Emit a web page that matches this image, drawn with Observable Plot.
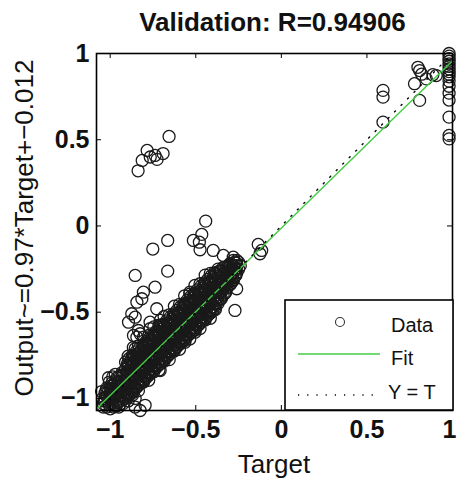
<!DOCTYPE html>
<html><head><meta charset="utf-8">
<script src="https://cdn.jsdelivr.net/npm/d3@7"></script>
<script src="https://cdn.jsdelivr.net/npm/@observablehq/plot@0.6"></script>
<style>
body{margin:0;background:#fff;font-family:"Liberation Sans",Arial,sans-serif;}
#wrap{position:relative;width:457px;height:479px;overflow:hidden;background:#fff;}
#title{height:44px;position:relative;}
#title span{position:absolute;left:0;width:545px;text-align:center;top:7px;font-size:26px;font-weight:bold;line-height:30px;color:#111;}
svg{overflow:visible;}
</style></head>
<body><div id="wrap"><div id="title"><span id="titleText"></span></div><div id="chart"></div></div>
<script>
// ---- data ----
const titleText = "Validation: R=0.94906";
const xLabel = "Target";
const yLabel = "Output~=0.97*Target+\u22120.012";
const legendLabels = ["Data", "Fit", "Y = T"];
const xTicks = [-1, -0.5, 0, 0.5, 1];
const yTicks = [-1, -0.5, 0, 0.5, 1];
const xDomain = [-1.08, 1];
const yDomain = [-1.07, 1];
const fitSlope = 0.97;
const fitOffset = -0.012;

// dense cluster near (-1,-1): [target, output]
const blobPoints = [
[-1.04,-1.03],[-1.03,-1.0],[-1.03,-0.97],[-1.02,-1.05],[-1.02,-0.99],[-1.02,-0.94],[-1.01,-1.02],[-1.01,-0.96],
[-1.0,-1.06],[-1.0,-1.0],[-1.0,-0.97],[-1.0,-0.93],[-0.99,-1.03],[-0.99,-0.98],[-0.99,-0.95],[-0.99,-0.91],
[-0.98,-1.05],[-0.98,-1.01],[-0.98,-0.96],[-0.98,-0.92],[-0.97,-1.04],[-0.97,-0.99],[-0.97,-0.94],[-0.97,-0.9],
[-0.96,-1.02],[-0.96,-0.97],[-0.96,-0.93],[-0.96,-0.88],[-0.95,-1.05],[-0.95,-1.0],[-0.95,-0.95],[-0.95,-0.91],
[-0.94,-1.03],[-0.94,-0.98],[-0.94,-0.93],[-0.94,-0.87],[-0.93,-1.01],[-0.93,-0.96],[-0.93,-0.9],[-0.92,-0.99],
[-0.92,-0.94],[-0.92,-0.86],[-1.035,-1.015],[-1.015,-0.985],[-1.005,-1.035],[-0.995,-0.945],[-0.985,-1.025],
[-0.975,-0.965],[-0.965,-1.045],[-0.955,-0.905],[-0.945,-1.015],[-0.935,-0.925],[-1.025,-0.955],[-1.045,-1.0],
[-1.005,-0.905],[-0.985,-0.875],[-0.965,-0.955],[-0.955,-1.025],[-0.925,-1.03],[-0.915,-0.965],
[-1.05,-0.96],[-1.04,-1.05],[-1.01,-0.88],[-0.97,-0.86],[-0.93,-0.85]
];

// main band along the diagonal: [target, [outputs...]]
const bandColumns = [
[-0.91,[-1.0,-0.95,-0.91,-0.87,-0.83,-0.79]],
[-0.90,[-0.97,-0.92,-0.88,-0.84,-0.8,-0.99]],
[-0.89,[-0.98,-0.93,-0.89,-0.85,-0.81,-0.77]],
[-0.88,[-0.95,-0.9,-0.86,-0.82,-0.78,-0.97]],
[-0.87,[-0.96,-0.91,-0.87,-0.83,-0.79,-0.75]],
[-0.86,[-0.93,-0.88,-0.84,-0.8,-0.76,-0.95]],
[-0.85,[-0.94,-0.89,-0.85,-0.81,-0.77,-0.73]],
[-0.84,[-0.91,-0.86,-0.82,-0.78,-0.74,-0.93]],
[-0.83,[-0.92,-0.87,-0.83,-0.79,-0.75,-0.71]],
[-0.82,[-0.89,-0.84,-0.8,-0.76,-0.72,-0.91]],
[-0.81,[-0.9,-0.85,-0.81,-0.77,-0.73,-0.69]],
[-0.80,[-0.87,-0.82,-0.78,-0.74,-0.7,-0.89]],
[-0.79,[-0.88,-0.83,-0.79,-0.75,-0.71,-0.67]],
[-0.78,[-0.85,-0.8,-0.76,-0.72,-0.68,-0.87]],
[-0.77,[-0.86,-0.81,-0.77,-0.73,-0.69,-0.65]],
[-0.76,[-0.83,-0.78,-0.74,-0.7,-0.66,-0.85]],
[-0.75,[-0.84,-0.79,-0.75,-0.71,-0.67,-0.63]],
[-0.74,[-0.81,-0.76,-0.72,-0.68,-0.64,-0.83]],
[-0.73,[-0.82,-0.77,-0.73,-0.69,-0.65,-0.61]],
[-0.72,[-0.79,-0.74,-0.7,-0.66,-0.62,-0.81]],
[-0.71,[-0.8,-0.75,-0.71,-0.67,-0.63,-0.59]],
[-0.70,[-0.77,-0.72,-0.68,-0.64,-0.6,-0.79]],
[-0.69,[-0.78,-0.73,-0.69,-0.65,-0.61,-0.57]],
[-0.68,[-0.75,-0.7,-0.66,-0.62,-0.58,-0.77]],
[-0.67,[-0.76,-0.71,-0.67,-0.63,-0.59,-0.55]],
[-0.66,[-0.73,-0.68,-0.64,-0.6,-0.56,-0.75]],
[-0.65,[-0.74,-0.69,-0.65,-0.61,-0.57,-0.53]],
[-0.64,[-0.71,-0.66,-0.62,-0.58,-0.54,-0.73]],
[-0.63,[-0.72,-0.67,-0.63,-0.59,-0.55,-0.51]],
[-0.62,[-0.69,-0.64,-0.6,-0.56,-0.52,-0.71]],
[-0.61,[-0.7,-0.65,-0.61,-0.57,-0.53,-0.49]],
[-0.60,[-0.67,-0.62,-0.58,-0.54,-0.5,-0.69]],
[-0.59,[-0.68,-0.63,-0.59,-0.55,-0.51,-0.47]],
[-0.58,[-0.65,-0.6,-0.56,-0.52,-0.48,-0.67]],
[-0.57,[-0.66,-0.61,-0.57,-0.53,-0.49,-0.45]],
[-0.56,[-0.63,-0.58,-0.54,-0.5,-0.46,-0.65]],
[-0.55,[-0.64,-0.59,-0.55,-0.51,-0.47,-0.43]],
[-0.54,[-0.61,-0.56,-0.52,-0.48,-0.44,-0.63]],
[-0.53,[-0.62,-0.57,-0.53,-0.49,-0.45,-0.41]],
[-0.52,[-0.59,-0.54,-0.5,-0.46,-0.42,-0.61]],
[-0.51,[-0.6,-0.55,-0.51,-0.47,-0.43,-0.39]],
[-0.50,[-0.57,-0.52,-0.48,-0.44,-0.4,-0.59]],
[-0.49,[-0.58,-0.53,-0.49,-0.45,-0.41,-0.37]],
[-0.48,[-0.55,-0.5,-0.46,-0.42,-0.38,-0.57]],
[-0.47,[-0.56,-0.51,-0.47,-0.43,-0.39,-0.35]],
[-0.46,[-0.53,-0.48,-0.44,-0.4,-0.36,-0.55]],
[-0.45,[-0.54,-0.49,-0.45,-0.41,-0.37,-0.33]],
[-0.44,[-0.51,-0.46,-0.42,-0.38,-0.34,-0.53]],
[-0.43,[-0.52,-0.47,-0.43,-0.39,-0.35,-0.31]],
[-0.42,[-0.49,-0.44,-0.4,-0.36,-0.32,-0.51]],
[-0.41,[-0.5,-0.45,-0.41,-0.37,-0.33,-0.29]],
[-0.40,[-0.47,-0.42,-0.38,-0.34,-0.3,-0.49]],
[-0.39,[-0.48,-0.43,-0.39,-0.35,-0.31,-0.27]],
[-0.38,[-0.45,-0.4,-0.36,-0.32,-0.28]],
[-0.37,[-0.45,-0.41,-0.37,-0.33,-0.29,-0.25]],
[-0.36,[-0.42,-0.38,-0.34,-0.3,-0.26]],
[-0.35,[-0.42,-0.38,-0.34,-0.3,-0.26]],
[-0.34,[-0.4,-0.36,-0.32,-0.28,-0.24]],
[-0.33,[-0.39,-0.35,-0.31,-0.27,-0.24]],
[-0.32,[-0.36,-0.32,-0.28,-0.24]],
[-0.31,[-0.35,-0.31,-0.27,-0.23]],
[-0.30,[-0.34,-0.3,-0.26,-0.22]],
[-0.29,[-0.32,-0.28,-0.24]],
[-0.28,[-0.31,-0.27,-0.23,-0.2]],
[-0.27,[-0.29,-0.25,-0.21]],
[-0.26,[-0.27,-0.23]],
[-0.25,[-0.25,-0.21]],
[-0.24,[-0.23]]
];

// looser points in and around the band
const bandEdgeColumns = [
[-0.895,[-1.015,-0.965,-0.925,-0.885,-0.845,-0.805,-0.755]],
[-0.865,[-0.965,-0.925,-0.885,-0.835,-0.795,-0.755,-0.705]],
[-0.835,[-0.955,-0.905,-0.865,-0.825,-0.785,-0.745,-0.695]],
[-0.805,[-0.905,-0.865,-0.825,-0.775,-0.735,-0.695,-0.645]],
[-0.775,[-0.895,-0.845,-0.805,-0.765,-0.725,-0.685,-0.635]],
[-0.745,[-0.845,-0.805,-0.765,-0.715,-0.675,-0.635,-0.585]],
[-0.715,[-0.835,-0.785,-0.745,-0.705,-0.665,-0.625,-0.575]],
[-0.685,[-0.785,-0.745,-0.705,-0.655,-0.615,-0.575,-0.525]],
[-0.655,[-0.775,-0.725,-0.685,-0.645,-0.605,-0.565,-0.515]],
[-0.625,[-0.725,-0.685,-0.645,-0.595,-0.555,-0.515,-0.465]],
[-0.595,[-0.715,-0.665,-0.625,-0.585,-0.545,-0.505,-0.455]],
[-0.565,[-0.665,-0.625,-0.585,-0.535,-0.495,-0.455,-0.405]],
[-0.535,[-0.655,-0.605,-0.565,-0.525,-0.485,-0.445,-0.395]],
[-0.505,[-0.605,-0.565,-0.525,-0.475,-0.435,-0.395,-0.345]],
[-0.475,[-0.595,-0.545,-0.505,-0.465,-0.425,-0.385,-0.335]],
[-0.445,[-0.545,-0.505,-0.465,-0.415,-0.375,-0.335,-0.285]],
[-0.415,[-0.535,-0.485,-0.445,-0.405,-0.365,-0.325,-0.275]],
[-0.385,[-0.485,-0.445,-0.405,-0.355,-0.315,-0.275]],
[-0.355,[-0.425,-0.385,-0.345,-0.305,-0.265]],
[-0.325,[-0.385,-0.345,-0.295,-0.255]],
[-0.295,[-0.335,-0.295,-0.255,-0.225]],
[-0.265,[-0.285,-0.245,-0.215]]
];

// scattered points off the band
const sparsePoints = [
[-0.854,-0.287],[-0.664,-0.262],[-0.738,-0.355],[-0.806,-0.384],[-0.815,-0.422],[-0.844,-0.442],[-0.728,-0.48],
[-0.874,-0.509],[-0.854,-0.529],[-0.893,-0.558],[-0.767,-0.558],[-0.708,-0.548],[-0.835,-0.606],[-0.825,-0.625],
[-0.864,-0.635],[-0.844,-0.645],[-0.854,-0.712],[-0.815,-0.77],[-0.796,-0.838],[-0.708,-0.838],[-0.708,-0.577],
[-0.767,-0.596],[-0.534,-0.384],[-0.504,-0.616],[-0.563,-0.674],[-0.417,-0.5],[-0.271,-0.49],[-0.261,-0.364],
[-0.281,-0.316],[-0.3,-0.219],[-0.854,-1.0],[-0.854,-1.05],[-0.796,-1.04],[-0.825,-1.07],[-0.87,-0.98]
];

// points between -0.2 and 0.1 on the output axis
const midPoints = [
[-0.442,0.028],[-0.465,-0.049],[-0.514,-0.084],[-0.479,-0.094],[-0.475,-0.138],[-0.398,-0.142],[-0.664,-0.084],
[-0.751,-0.134],[-0.339,-0.171],[-0.281,-0.181],[-0.261,-0.2],[-0.135,-0.107],[-0.115,-0.142],[-0.125,-0.161]
];

// upper-left outliers
const highPoints = [
[-0.656,0.519],[-0.784,0.438],[-0.738,0.409],[-0.691,0.42],[-0.813,0.38],[-0.837,0.32],[-0.766,0.40],[-0.726,0.386]
];

// upper-right points
const topRightPoints = [
[0.594,0.786],[0.594,0.747],[0.594,0.602],[0.808,0.728],[0.778,0.825],[0.808,0.901],[0.798,0.92],[0.82,0.88],
[0.847,0.853],[0.885,0.877],[0.905,0.872],
[0.98,1.0],[0.98,0.985],[0.98,0.97],[0.98,0.955],[0.98,0.94],[0.98,0.925],[0.98,0.91],[0.98,0.895],[0.98,0.88],
[0.98,0.865],[0.98,0.84],[0.98,0.81],[0.98,0.77],[0.98,0.73],[0.98,0.631],[0.98,0.525],[0.98,0.505]
];

// ---- build ----
document.getElementById("titleText").textContent = titleText;
const points = [];
for (const [t, o] of blobPoints) points.push({target: t, output: o});
for (const cols of [bandColumns, bandEdgeColumns])
  for (const [t, outs] of cols) for (const o of outs) points.push({target: t, output: o});
for (const arr of [sparsePoints, midPoints, highPoints, topRightPoints])
  for (const [t, o] of arr) points.push({target: t, output: o});

const fitLine = xDomain.map(t => ({x: t, y: fitSlope * t + fitOffset}));
const identLine = xDomain.map(t => ({x: t, y: t}));

const W = 457, H = 435, mT = 9, mB = 69, mL = 96, mR = 5;
const innerH = H - mT - mB, innerW = W - mL - mR;
const FONT = '"Liberation Sans", Arial, sans-serif';
const fmt = d3.format("~g");
const lastX = xTicks[xTicks.length - 1];

const plot = Plot.plot({
  width: W, height: H, marginTop: mT, marginBottom: mB, marginLeft: mL, marginRight: mR,
  style: {fontFamily: FONT, background: "white", color: "#111", overflow: "visible"},
  x: {domain: xDomain},
  y: {domain: yDomain},
  marks: [
    Plot.dot(points, {x: "target", y: "output", r: 6, stroke: "#1a1a1a", strokeWidth: 1.3, fill: "none"}),
    Plot.line(fitLine, {x: "x", y: "y", stroke: "#46cc46", strokeWidth: 1.4, clip: true}),
    Plot.line(identLine, {x: "x", y: "y", stroke: "#000", strokeWidth: 1.4, strokeDasharray: "1.2,8", clip: true}),
    Plot.frame({stroke: "#000", strokeWidth: 1.6}),
    Plot.tickX(xTicks, {x: d => d, insetTop: innerH - 5, stroke: "#000"}),
    Plot.tickX(xTicks, {x: d => d, insetBottom: innerH - 5, stroke: "#000"}),
    Plot.tickY(yTicks, {y: d => d, insetRight: innerW - 5, stroke: "#000"}),
    Plot.tickY(yTicks, {y: d => d, insetLeft: innerW - 5, stroke: "#000"}),
    Plot.axisX({ticks: xTicks.slice(0, -1), tickFormat: fmt, tickSize: 0, tickPadding: 10, fontSize: 25, fontWeight: "bold", label: null}),
    Plot.axisX({ticks: [lastX], tickFormat: fmt, tickSize: 0, tickPadding: 10, fontSize: 25, fontWeight: "bold", label: null, textAnchor: "end", dx: 4}),
    Plot.axisY({ticks: yTicks, tickFormat: fmt, tickSize: 0, tickPadding: 7, fontSize: 25, fontWeight: "bold", label: null})
  ]
});
document.getElementById("chart").appendChild(plot);

const svg = d3.select(plot);
// axis titles
svg.append("text").attr("x", 274).attr("y", 429).attr("text-anchor", "middle")
  .attr("font-size", 26).attr("font-family", FONT).attr("fill", "#111").text(xLabel);
svg.append("text").attr("transform", "translate(33,184) rotate(-90)").attr("text-anchor", "middle")
  .attr("font-size", 26).attr("font-family", FONT).attr("fill", "#111").text(yLabel);

// legend
const lg = svg.append("g").attr("font-family", FONT).attr("font-size", 20).attr("fill", "#111").attr("text-anchor", "start");
lg.append("rect").attr("x", 285).attr("y", 256).attr("width", 168).attr("height", 110)
  .attr("fill", "white").attr("stroke", "#000").attr("stroke-width", 1.6);
lg.append("circle").attr("cx", 340).attr("cy", 278).attr("r", 4.5).attr("fill", "none").attr("stroke", "#333").attr("stroke-width", 1.1);
lg.append("text").attr("x", 391).attr("y", 288).attr("text-anchor", "start").text(legendLabels[0]);
lg.append("line").attr("x1", 298).attr("x2", 380).attr("y1", 310).attr("y2", 310).attr("stroke", "#46cc46").attr("stroke-width", 1.6);
lg.append("text").attr("x", 391).attr("y", 321).attr("text-anchor", "start").text(legendLabels[1]);
lg.append("line").attr("x1", 298).attr("x2", 374).attr("y1", 351).attr("y2", 351).attr("stroke", "#000").attr("stroke-width", 1.4).attr("stroke-dasharray", "1.2,8");
lg.append("text").attr("x", 388).attr("y", 355).attr("text-anchor", "start").text(legendLabels[2]);
</script>
</body></html>
